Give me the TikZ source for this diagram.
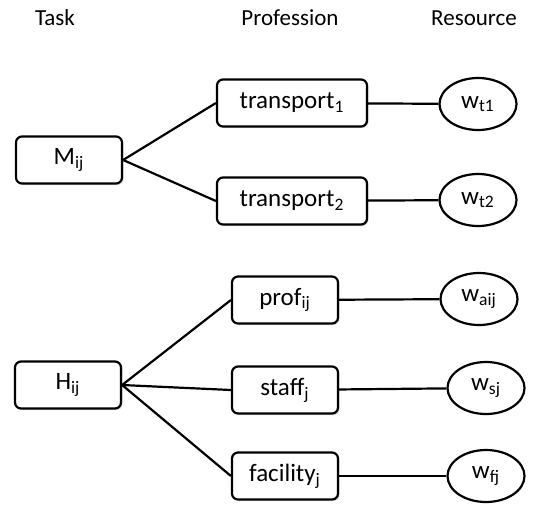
\documentclass[tikz,border=0pt]{standalone}
\usepackage{fontspec}
\setmainfont{Carlito}
\usetikzlibrary{shapes.geometric,shadows}

\begin{document}
\begin{tikzpicture}[x=0.5pt,y=-0.5pt,
    every node/.style={font=\fontsize{11.5}{14}\selectfont},
    taskbox/.style={draw, line width=1.1pt, rounded corners=3pt, fill=white,
      minimum width=53pt, minimum height=23.5pt, inner sep=0pt,
      font=\fontsize{12.5}{15}\selectfont,
      drop shadow={shadow xshift=0.8pt, shadow yshift=-0.8pt, opacity=0.25}},
    resnode/.style={draw, ellipse, line width=1.1pt, fill=white,
      minimum width=38.5pt, minimum height=26pt, inner sep=0pt,
      font=\fontsize{12.5}{15}\selectfont},
    link/.style={line width=1.1pt}]
  \useasboundingbox (0,0) rectangle (539,504);

  % column titles
  \node (taskhead) at (55,18) {Task};
  \node (profhead) at (290,18) {Profession};
  \node (reshead) at (474,18) {Resource};

  % tasks
  \node[taskbox] (mij) at (69,160) {M\textsubscript{ij}};
  \node[taskbox] (hij) at (68,385) {H\textsubscript{ij}};

  % professions
  \node[taskbox, minimum width=75pt] (trans1) at (292,103) {transport\textsubscript{1}};
  \node[taskbox, minimum width=75pt] (trans2) at (292,201) {transport\textsubscript{2}};
  \node[taskbox] (prof) at (285,300) {prof\textsubscript{ij}};
  \node[taskbox] (staff) at (285,390) {staff\textsubscript{j}};
  \node[taskbox] (facility) at (285,476) {facility\textsubscript{j}};

  % resources
  \node[resnode] (wt1) at (478,104) {w\textsubscript{t1}};
  \node[resnode] (wt2) at (478,200) {w\textsubscript{t2}};
  \node[resnode] (waij) at (479,299) {w\textsubscript{aij}};
  \node[resnode] (wsj) at (486,388) {w\textsubscript{sj}};
  \node[resnode] (wfj) at (486,476) {w\textsubscript{fj}};

  % connectors
  \draw[link] (mij.east) -- (trans1.west);
  \draw[link] (mij.east) -- (trans2.west);
  \draw[link] (hij.east) -- (prof.west);
  \draw[link] (hij.east) -- (staff.west);
  \draw[link] (hij.east) -- (facility.west);
  \draw[link] (trans1) -- (wt1);
  \draw[link] (trans2) -- (wt2);
  \draw[link] (prof) -- (waij);
  \draw[link] (staff) -- (wsj);
  \draw[link] (facility) -- (wfj);
\end{tikzpicture}
\end{document}
